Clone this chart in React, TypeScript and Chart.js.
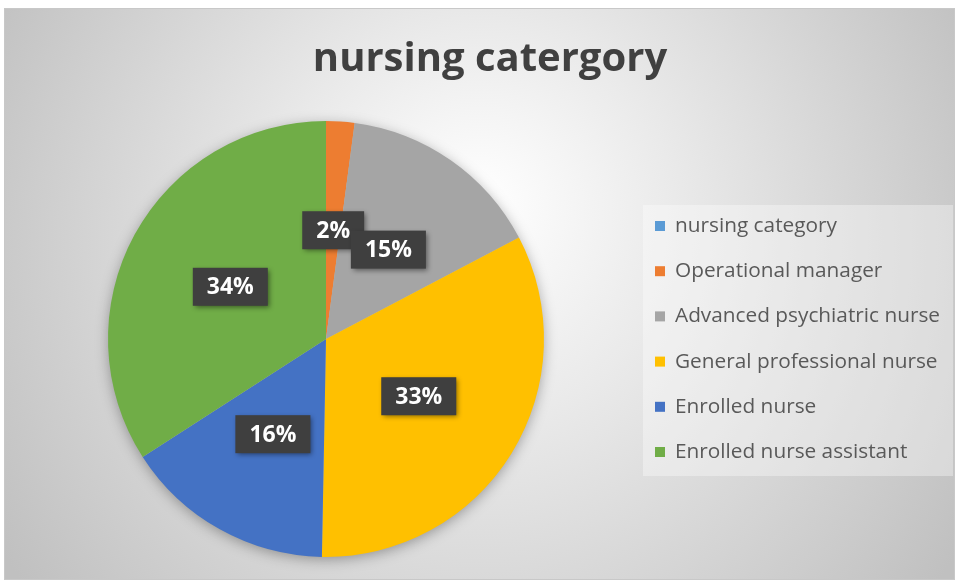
import React, { useEffect, useRef } from "react";
import { Chart, registerables } from "chart.js";

Chart.register(...registerables);

const chartTitle = "nursing catergory";
const categories = [
  "nursing category",
  "Operational manager",
  "Advanced psychiatric nurse",
  "General professional nurse",
  "Enrolled nurse",
  "Enrolled nurse assistant",
];
const values = [0, 2.1, 15.2, 33.0, 15.6, 34.1];
const colors = ["#5B9BD5", "#ED7D31", "#A5A5A5", "#FFC000", "#4472C4", "#70AD47"];

const W = 959;
const H = 583;

const bgPlugin = {
  id: "bg",
  beforeDraw(chart: any) {
    const ctx = chart.ctx;
    ctx.save();
    ctx.fillStyle = "#ffffff";
    ctx.fillRect(0, 0, W, H);
    const x0 = 4, y0 = 8, x1 = 955, y1 = 580;
    const g = ctx.createRadialGradient(480, 200, 0, 480, 260, 560);
    g.addColorStop(0, "#ffffff");
    g.addColorStop(0.35, "#eaeaea");
    g.addColorStop(1, "#c0c0c0");
    ctx.fillStyle = g;
    ctx.fillRect(x0, y0, x1 - x0, y1 - y0);
    ctx.strokeStyle = "#c8c8c8";
    ctx.lineWidth = 1;
    ctx.strokeRect(x0 + 0.5, y0 + 0.5, x1 - x0 - 1, y1 - y0 - 1);

    // title
    ctx.fillStyle = "#404040";
    ctx.font = "bold 40px 'Open Sans'";
    ctx.textAlign = "center";
    ctx.textBaseline = "middle";
    ctx.fillText(chartTitle, 490, 60);

    // legend box
    ctx.fillStyle = "rgba(255,255,255,0.35)";
    ctx.fillRect(643, 205, 310, 271);
    ctx.restore();
  },
  beforeDatasetsDraw(chart: any) {
    const meta = chart.getDatasetMeta(0);
    const arc = meta.data.find((a: any) => a.outerRadius > 0);
    if (!arc) return;
    const ctx = chart.ctx;
    ctx.save();
    ctx.shadowColor = "rgba(0,0,0,0.35)";
    ctx.shadowBlur = 14;
    ctx.shadowOffsetY = 3;
    ctx.fillStyle = "#bbbbbb";
    ctx.beginPath();
    ctx.arc(arc.x, arc.y, arc.outerRadius - 1, 0, Math.PI * 2);
    ctx.fill();
    ctx.restore();
  },
  afterDraw(chart: any) {
    const ctx = chart.ctx;
    const data = chart.data.datasets[0].data as number[];
    const total = data.reduce((a: number, b: number) => a + b, 0);
    const meta = chart.getDatasetMeta(0);
    ctx.save();
    // data labels
    ctx.font = "bold 23px 'Open Sans'";
    ctx.textAlign = "center";
    ctx.textBaseline = "middle";
    meta.data.forEach((arc: any, i: number) => {
      const v = data[i];
      if (!v) return;
      const p = arc.getCenterPoint();
      const txt = Math.round((v / total) * 100) + "%";
      const tw = ctx.measureText(txt).width;
      const bw = tw + 28, bh = 38;
      ctx.save();
      ctx.shadowColor = "rgba(0,0,0,0.45)";
      ctx.shadowBlur = 5;
      ctx.shadowOffsetX = 2;
      ctx.shadowOffsetY = 2;
      ctx.fillStyle = "#3f3f3f";
      ctx.fillRect(p.x - bw / 2, p.y - bh / 2, bw, bh);
      ctx.restore();
      ctx.fillStyle = "#ffffff";
      ctx.fillText(txt, p.x, p.y + 1);
    });

    // legend
    const labels = chart.data.labels as string[];
    const cols = chart.data.datasets[0].backgroundColor as string[];
    ctx.font = "20.8px 'Open Sans'";
    ctx.textAlign = "left";
    labels.forEach((l: string, i: number) => {
      const y = 226 + i * 45.2;
      ctx.fillStyle = cols[i];
      ctx.fillRect(655, y - 5, 10, 10);
      ctx.fillStyle = "#595959";
      ctx.fillText(l, 675, y);
    });
    ctx.restore();
  },
};

export default function App() {
  const ref = useRef<HTMLCanvasElement>(null);
  useEffect(() => {
    document.body.style.margin = "0";
    const c = new Chart(ref.current!, {
      type: "pie",
      data: {
        labels: categories,
        datasets: [
          {
            data: values,
            backgroundColor: colors,
            borderWidth: 0,
          },
        ],
      },
      options: {
        animation: false,
        responsive: false,
        layout: { padding: { left: 108, right: 415, top: 121, bottom: 26 } },
        plugins: {
          legend: { display: false },
          tooltip: { enabled: false },
          title: { display: false },
        },
      },
      plugins: [bgPlugin],
    });
    return () => c.destroy();
  }, []);
  return (
    <div style={{ position: "absolute", left: 0, top: 0, width: W, height: H }}>
      <canvas ref={ref} width={W} height={H} style={{ width: W, height: H }} />
    </div>
  );
}
